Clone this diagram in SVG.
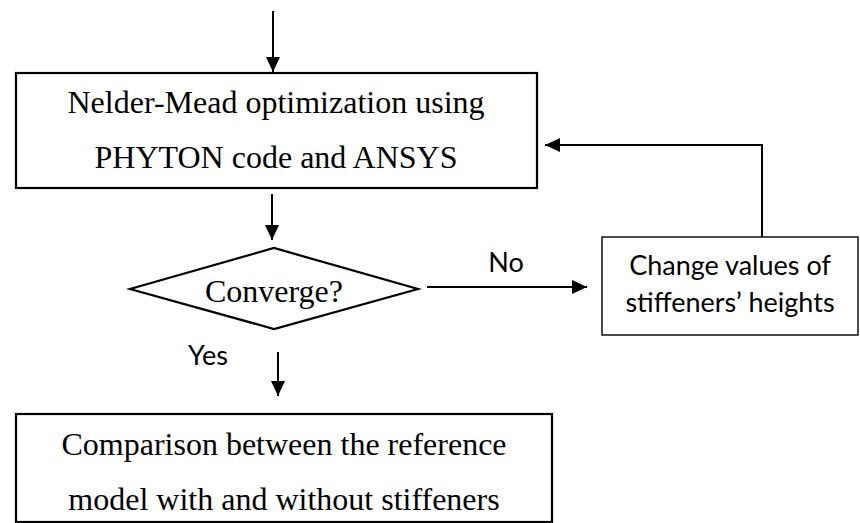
<svg xmlns="http://www.w3.org/2000/svg" width="860" height="523" viewBox="0 0 860 523">
<style>
.box{fill:#fff;stroke:#000;stroke-width:2.2}
.thin{fill:#fff;stroke:#000;stroke-width:1.4}
.serif{font-family:"Liberation Serif","Times New Roman",serif;font-size:32px;fill:#000;text-anchor:middle}
.sans{font-family:Lato,"Liberation Sans",sans-serif;font-size:27px;fill:#000;text-anchor:middle}
.conn{fill:none;stroke:#000;stroke-width:2}
</style>
<defs>
<marker id="ah" markerUnits="userSpaceOnUse" markerWidth="16" markerHeight="16" viewBox="0 0 16 16" refX="15" refY="8" orient="auto">
<path d="M0,1 L15,8 L0,15 Z" fill="#000"/>
</marker>
</defs>
<g id="connectors">
<line class="conn" x1="273" y1="11" x2="273" y2="72" marker-end="url(#ah)"/>
<line class="conn" x1="272" y1="194" x2="272" y2="240" marker-end="url(#ah)"/>
<line class="conn" x1="427" y1="287" x2="587" y2="287" marker-end="url(#ah)"/>
<polyline class="conn" points="762,237 762,145 545,145" marker-end="url(#ah)"/>
<line class="conn" x1="278" y1="352" x2="278" y2="396" marker-end="url(#ah)"/>
<text class="sans" x="506" y="272" font-size="24">No</text>
<text class="sans" x="208" y="365" font-size="24">Yes</text>
</g>
<g id="optimize">
<rect class="box" x="16" y="73" width="521" height="115"/>
<text class="serif" x="276" y="113">Nelder-Mead optimization using</text>
<text class="serif" x="276" y="168">PHYTON code and ANSYS</text>
</g>
<g id="converge">
<polygon class="box" points="130,289 274,248 418,289 274,329"/>
<text class="serif" x="274" y="302" font-size="29">Converge?</text>
</g>
<g id="change">
<rect class="thin" x="602" y="237" width="256" height="98"/>
<text class="sans" x="730" y="275">Change values of</text>
<text class="sans" x="730" y="312">stiffeners’ heights</text>
</g>
<g id="compare">
<rect class="box" x="16" y="414" width="536" height="108"/>
<text class="serif" x="284" y="455">Comparison between the reference</text>
<text class="serif" x="284" y="510">model with and without stiffeners</text>
</g>
</svg>
